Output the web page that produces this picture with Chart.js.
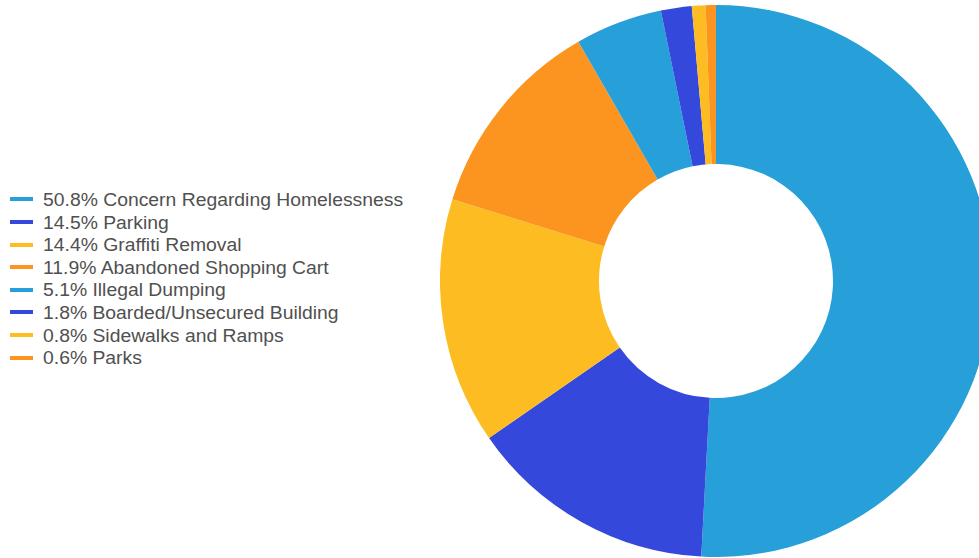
<!DOCTYPE html>
<html>
<head>
<meta charset="utf-8">
<script src="https://cdn.jsdelivr.net/npm/chart.js@4.4.1/dist/chart.umd.min.js"></script>
<style>
    html, body {
        margin: 0;
        padding: 0;
        width: 979px;
        height: 558px;
        overflow: hidden;
        background: #ffffff;
        font-family: "Liberation Sans", Arial, sans-serif;
    }

    #legend {
        position: absolute;
        left: 10px;
        top: 189px;
        margin: 0;
        padding: 0;
        list-style: none;
    }

    #legend li {
        height: 22.6px;
        line-height: 22.6px;
        font-size: 17.5px;
        color: #505050;
        white-space: nowrap;
    }

    #legend .mark {
        display: inline-block;
        width: 23px;
        height: 4px;
        vertical-align: middle;
        margin-right: 10px;
        position: relative;
        top: -2px;
    }

    #legend .text {
        display: inline-block;
        transform: scaleX(1.105);
        transform-origin: left center;
    }

    #ring {
        position: absolute;
        left: 440px;
        top: 5px;
        width: 552px;
        height: 552px;
    }
</style>
</head>
<body>

<ul id="legend"></ul>

<div id="ring">
    <canvas id="requestsChart"></canvas>
</div>

<script>
const categories = [
    'Concern Regarding Homelessness',
    'Parking',
    'Graffiti Removal',
    'Abandoned Shopping Cart',
    'Illegal Dumping',
    'Boarded/Unsecured Building',
    'Sidewalks and Ramps',
    'Parks'
];

const shares = [50.8, 14.5, 14.4, 11.9, 5.1, 1.8, 0.8, 0.6];

const colors = [
    '#27a0d9', '#3448dc', '#fdbd22', '#fb951f',
    '#27a0d9', '#3448dc', '#fdbd22', '#fb951f'
];

// legend on the left, one line marker per category
const legend = document.getElementById('legend');

categories.forEach((name, i) => {
    legend.innerHTML += `
        <li><span class="mark" style="background:${colors[i]}"></span><span class="text">${shares[i].toFixed(1)}% ${name}</span></li>
    `;
});

const ctx = document.getElementById('requestsChart');

const requestsChart = new Chart(ctx, {

    type: 'doughnut',
    data: {
        labels: categories,
        datasets: [{
            data: shares,
            backgroundColor: colors,
            borderWidth: 0,
            hoverOffset: 0
        }]
    },

    options: {
        responsive: true,
        maintainAspectRatio: false,
        animation: false,
        cutout: '42.4%',
        layout: {
            padding: 0
        },

        plugins: {
            legend: {
                display: false
            },
            tooltip: {
                enabled: false
            }
        }
    }

});
</script>
</body>
</html>
